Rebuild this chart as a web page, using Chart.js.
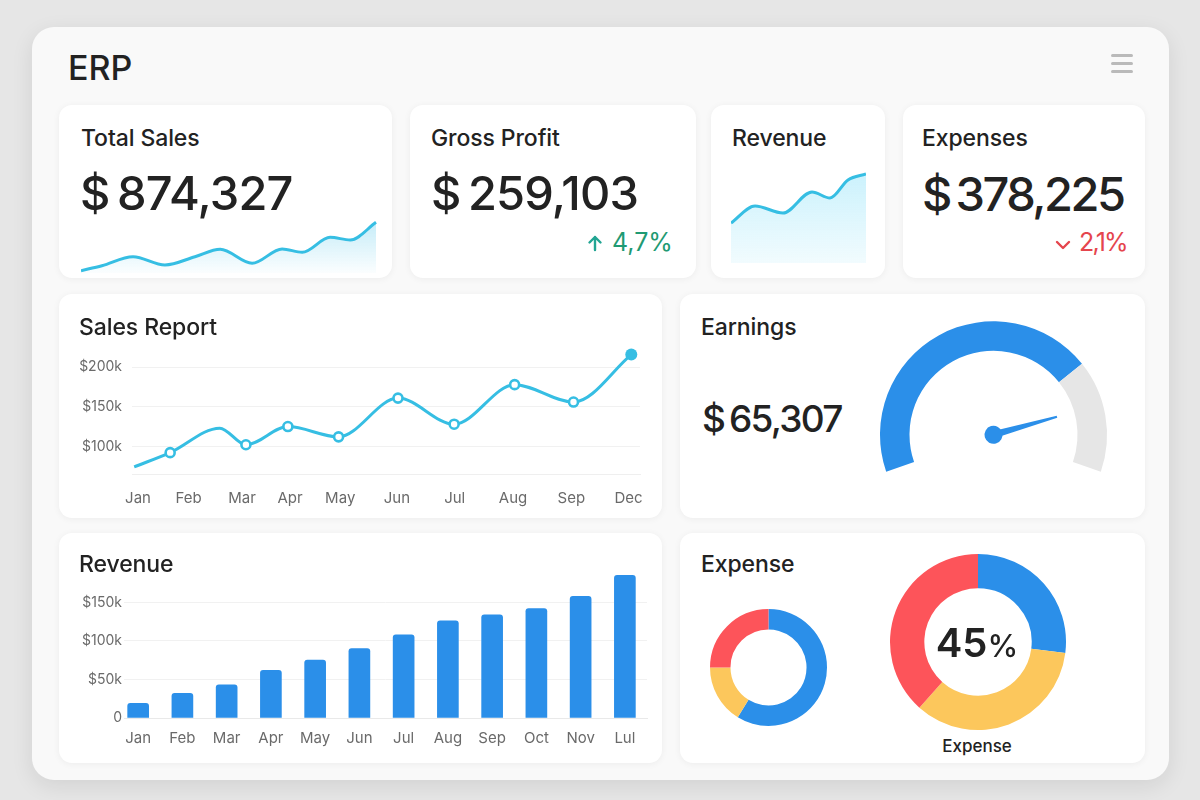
<!DOCTYPE html>
<html>
<head>
<meta charset="utf-8">
<title>ERP</title>
<script src="https://cdn.jsdelivr.net/npm/chart.js@4.4.1/dist/chart.umd.min.js"></script>
<style>
  html, body { margin: 0; padding: 0; }
  body {
    width: 1200px; height: 800px; overflow: hidden; position: relative;
    background: #e6e6e6;
    font-family: Inter, "Noto Sans", "DejaVu Sans", sans-serif;
    color: #222;
  }
  .panel {
    position: absolute; left: 32px; top: 27px; width: 1137px; height: 753px;
    background: #f9f9f9; border-radius: 22px;
    box-shadow: 0 6px 22px rgba(0,0,0,.09);
  }
  .card {
    position: absolute; background: #fff; border-radius: 13px;
    box-shadow: 0 1px 7px rgba(0,0,0,.055);
  }
  .t { position: absolute; line-height: 1; white-space: nowrap; }
  .h  { font-size: 23px; font-weight: 500; letter-spacing: -0.1px; }
  .big { font-size: 47px; font-weight: 500; letter-spacing: -0.8px; }
  canvas { position: absolute; }
  .menu span {
    position: absolute; left: 1111px; width: 22px; height: 3px;
    background: #bababa; border-radius: 2px;
  }
  svg { position: absolute; }
</style>
</head>
<body>

<div class="panel"></div>
<div class="t" style="left:68px;top:51px;font-size:34px;font-weight:500;">ERP</div>
<div class="menu">
  <span style="top:54px"></span><span style="top:62px"></span><span style="top:70px"></span>
</div>

<!-- cards -->
<div class="card" style="left:59px;top:105px;width:333px;height:173px"></div>
<div class="card" style="left:410px;top:105px;width:286px;height:173px"></div>
<div class="card" style="left:711px;top:105px;width:174px;height:173px"></div>
<div class="card" style="left:903px;top:105px;width:242px;height:173px"></div>
<div class="card" style="left:59px;top:294px;width:603px;height:224px"></div>
<div class="card" style="left:680px;top:294px;width:465px;height:224px"></div>
<div class="card" style="left:59px;top:533px;width:603px;height:230px"></div>
<div class="card" style="left:680px;top:533px;width:465px;height:230px"></div>

<!-- canvases -->
<canvas id="sparkSales"   width="296" height="58"  style="left:81px;top:216px"></canvas>
<canvas id="sparkRevenue" width="135" height="95"  style="left:731px;top:168px"></canvas>
<canvas id="salesChart"   width="580" height="180" style="left:70px;top:338px"></canvas>
<canvas id="gaugeChart"   width="243" height="167" style="left:872px;top:313px"></canvas>
<canvas id="revenueChart" width="590" height="196" style="left:70px;top:566px"></canvas>
<canvas id="donutSmall"   width="125" height="125" style="left:706px;top:605px"></canvas>
<canvas id="donutBig"     width="184" height="184" style="left:886px;top:550px"></canvas>

<!-- texts -->
<div class="t h" style="left:81px;top:127px">Total Sales</div>
<div class="t big" style="left:80px;top:169px">$&thinsp;874,327</div>

<div class="t h" style="left:431px;top:127px">Gross Profit</div>
<div class="t big" style="left:431px;top:169px">$&thinsp;259,103</div>
<svg width="18" height="18" style="left:586px;top:234px" viewBox="0 0 18 18">
  <path d="M9 16 V3 M3.5 8.5 L9 3 L14.5 8.5" fill="none" stroke="#22a593" stroke-width="2.4" stroke-linecap="round" stroke-linejoin="round"/>
</svg>
<div class="t" style="left:612px;top:230px;font-size:25px;color:#1f9a73;">4,7%</div>

<div class="t h" style="left:732px;top:127px">Revenue</div>

<div class="t h" style="left:922px;top:127px">Expenses</div>
<div class="t big" style="left:922px;top:170px;letter-spacing:-2.5px;">$&thinsp;378,225</div>
<svg width="18" height="12" style="left:1054px;top:239px" viewBox="0 0 18 12">
  <path d="M3 3 L9 9 L15 3" fill="none" stroke="#e5454d" stroke-width="2.4" stroke-linecap="round" stroke-linejoin="round"/>
</svg>
<div class="t" style="left:1079px;top:230px;font-size:25px;color:#e5454d;letter-spacing:-1.8px;">2,1%</div>

<div class="t h" style="left:79px;top:316px">Sales Report</div>
<div class="t h" style="left:701px;top:316px">Earnings</div>
<div class="t" style="left:702px;top:400px;font-size:37px;font-weight:500;letter-spacing:-1.7px;">$&thinsp;65,307</div>

<div class="t h" style="left:79px;top:553px">Revenue</div>
<div class="t h" style="left:701px;top:553px">Expense</div>
<div class="t" style="left:900px;top:623px;width:154px;text-align:center;font-size:40px;font-weight:600;">45<span style="font-size:31px;font-weight:500;">%</span></div>
<div class="t" style="left:900px;top:738px;width:154px;text-align:center;font-size:17px;font-weight:500;">Expense</div>

<script>
// ── Data ──────────────────────────────────────────────────────────────────────
// Total Sales sparkline (month position, trend value)
const totalSalesPos = [0, 0.78, 1.94, 3.13, 4.25, 5.19, 6.38, 7.5, 8.25, 9.29, 10.04, 11];
const totalSalesVal = [2.3, 7.3, 16.3, 8, 16.3, 23.7, 9.7, 24, 20.7, 35.7, 33, 50.7];

// Revenue sparkline
const revSparkPos = [0, 1.07, 2.31, 3.6, 4.4, 5.2, 6];
const revSparkVal = [40, 57, 50, 71, 65, 83, 89];

// Sales Report ($k)
const salesMonths   = ["Jan","Feb","Mar","Apr","May","Jun","Jul","Aug","Sep","Dec"];
const salesMonthPos = [0, 0.93, 1.91, 2.79, 3.71, 4.75, 5.81, 6.88, 7.95, 9];
const salesPos      = [-0.07, 0.59, 1.5, 1.98, 2.75, 3.68, 4.77, 5.8, 6.91, 7.99, 9.05];
const salesK        = [74, 92, 123, 102, 125, 112, 161, 128, 178, 156, 216];
const salesTicksK   = [100, 150, 200];

// Earnings gauge (% filled / rest) and needle reading
const gaugeParts  = [73.5, 26.5];
const gaugeNeedle = 84;

// Revenue bars ($k)
const revMonths  = ["Jan","Feb","Mar","Apr","May","Jun","Jul","Aug","Sep","Oct","Nov","Lul"];
const revK       = [19, 32, 43, 62, 75, 90, 108, 126, 134, 142, 158, 185];
const revTicksK  = [0, 50, 100, 150];

// Expense donuts (blue, yellow, red shares)
const expenseSmall = [58.8, 16.2, 25];
const expenseBig   = [27, 34.6, 38.4];

// ── Colours ───────────────────────────────────────────────────────────────────
const CYAN   = "#36bee3";
const BLUE   = "#2b8fe9";
const YELLOW = "#fcc75c";
const RED    = "#fd545a";
const GREY   = "#e6e6e6";
const TICK   = "#6a6a6a";

Chart.defaults.font.family = "Inter, 'Noto Sans', sans-serif";
Chart.defaults.animation = false;
Chart.defaults.responsive = false;
Chart.defaults.events = [];
Chart.defaults.plugins.legend.display = false;
Chart.defaults.plugins.tooltip.enabled = false;

function fillGradient(top, bottom) {
  return ctx => {
    const { chart } = ctx;
    const area = chart.chartArea;
    if (!area) return null;
    const g = chart.ctx.createLinearGradient(0, area.top, 0, area.bottom);
    g.addColorStop(0, top);
    g.addColorStop(1, bottom);
    return g;
  };
}

// fixed axis boxes, no extra label padding
function fixX(h) { return s => { s.height = h; s.paddingLeft = 0; s.paddingRight = 0; }; }
function fixY(w) { return s => { s.width = w; s.paddingTop = 0; s.paddingBottom = 0; }; }

function sparkline(id, xs, ys, yMax, pad, fillTop, fillBottom) {
  new Chart(document.getElementById(id), {
    type: "line",
    data: {
      datasets: [{
        data: xs.map((x, i) => ({ x, y: ys[i] })),
        borderColor: CYAN,
        borderWidth: 3,
        pointRadius: 0,
        cubicInterpolationMode: "monotone",
        fill: "origin",
        backgroundColor: fillGradient(fillTop, fillBottom),
        clip: false,
      }]
    },
    options: {
      layout: { padding: pad },
      scales: {
        x: { type: "linear", display: false, min: xs[0], max: xs[xs.length - 1] },
        y: { display: false, min: 0, max: yMax },
      }
    }
  });
}

sparkline("sparkSales", totalSalesPos, totalSalesVal, 54,
  { top: 3, bottom: 1, left: 0, right: 1 },
  "rgba(56,190,232,0.30)", "rgba(56,190,232,0.02)");
sparkline("sparkRevenue", revSparkPos, revSparkVal, 92,
  { top: 3, bottom: 0, left: 0, right: 0 },
  "rgba(60,205,245,0.27)", "rgba(60,205,245,0.07)");

// ── Sales Report line ────────────────────────────────────────────────────────
const lastIdx = salesK.length - 1;
new Chart(document.getElementById("salesChart"), {
  type: "line",
  data: {
    datasets: [{
      data: salesPos.map((x, i) => ({ x, y: salesK[i] })),
      borderColor: CYAN,
      borderWidth: 3,
      cubicInterpolationMode: "monotone",
      clip: false,
      pointRadius: c => (c.dataIndex === 0 || c.dataIndex === 2) ? 0 : (c.dataIndex === lastIdx ? 6 : 4.5),
      pointBackgroundColor: c => c.dataIndex === lastIdx ? CYAN : "#fff",
      pointBorderColor: CYAN,
      pointBorderWidth: c => c.dataIndex === lastIdx ? 0 : 2.6,
    }]
  },
  options: {
    layout: { padding: { top: 9.5, right: 10, left: 0, bottom: 0 } },
    scales: {
      x: {
        type: "linear", min: -0.11, max: 9.21,
        afterBuildTicks: s => { s.ticks = salesMonthPos.map(v => ({ value: v })); },
        afterFit: fixX(44),
        ticks: {
          autoSkip: false, maxRotation: 0, padding: 7,
          color: TICK, font: { size: 15 },
          callback: (v, i) => salesMonths[i],
        },
        grid: { display: false },
        border: { display: true, color: "#efefef" },
      },
      y: {
        min: 65, max: 225,
        afterBuildTicks: s => { s.ticks = salesTicksK.map(v => ({ value: v })); },
        afterFit: fixY(62),
        ticks: { padding: 10, color: TICK, font: { size: 14 }, callback: v => `$${v}k` },
        grid: { color: "#f1f1f1", drawTicks: false },
        border: { display: false },
      }
    }
  }
});

// ── Earnings gauge ───────────────────────────────────────────────────────────
const needlePlugin = {
  id: "needle",
  afterDatasetsDraw(chart) {
    const arcs = chart.getDatasetMeta(0).data;
    const first = arcs[0], last = arcs[arcs.length - 1];
    const a = first.startAngle + (last.endAngle - first.startAngle) * gaugeNeedle / 100;
    const c = chart.ctx;
    c.save();
    c.translate(first.x, first.y);
    c.rotate(a);
    c.fillStyle = BLUE;
    c.beginPath();
    c.moveTo(0, -3.6); c.lineTo(66, -1); c.lineTo(66, 1); c.lineTo(0, 3.6);
    c.closePath(); c.fill();
    c.beginPath(); c.arc(0, 0, 9, 0, Math.PI * 2); c.fill();
    c.restore();
  }
};

new Chart(document.getElementById("gaugeChart"), {
  type: "doughnut",
  data: { datasets: [{ data: gaugeParts, backgroundColor: [BLUE, GREY], borderWidth: 0, hoverOffset: 0 }] },
  options: {
    rotation: -109, circumference: 218, cutout: "74%",
    layout: { padding: 8 },
  },
  plugins: [needlePlugin]
});

// ── Revenue bars ─────────────────────────────────────────────────────────────
new Chart(document.getElementById("revenueChart"), {
  type: "bar",
  data: {
    datasets: [{
      data: revK.map((v, i) => ({ x: i, y: v })),
      backgroundColor: BLUE,
      barThickness: 21,
      borderRadius: 3,
      borderSkipped: "bottom",
    }]
  },
  options: {
    layout: { padding: { top: 4, right: 13, left: 0, bottom: 0 } },
    scales: {
      x: {
        type: "linear", min: -0.32, max: 11.5, offset: false,
        afterBuildTicks: s => { s.ticks = revMonths.map((m, i) => ({ value: i })); },
        afterFit: fixX(44),
        ticks: {
          autoSkip: false, maxRotation: 0, padding: 3, color: TICK, font: { size: 15 },
          callback: (v, i) => revMonths[i],
        },
        grid: { display: false },
        border: { display: true, color: "#e9e9e9" },
      },
      y: {
        min: 0, max: 192,
        afterBuildTicks: s => { s.ticks = revTicksK.map(v => ({ value: v })); },
        afterFit: fixY(54),
        ticks: { padding: 2, color: TICK, font: { size: 14 }, callback: v => v === 0 ? "0" : `$${v}k` },
        grid: { color: "#f1f1f1", drawTicks: false },
        border: { display: false },
      }
    }
  }
});

// ── Expense donuts ───────────────────────────────────────────────────────────
function donut(id, parts, cutout) {
  new Chart(document.getElementById(id), {
    type: "doughnut",
    data: { datasets: [{ data: parts, backgroundColor: [BLUE, YELLOW, RED], borderWidth: 0, hoverOffset: 0 }] },
    options: { cutout, layout: { padding: 4 } }
  });
}
donut("donutSmall", expenseSmall, "65%");
donut("donutBig", expenseBig, "61%");
</script>
</body>
</html>
